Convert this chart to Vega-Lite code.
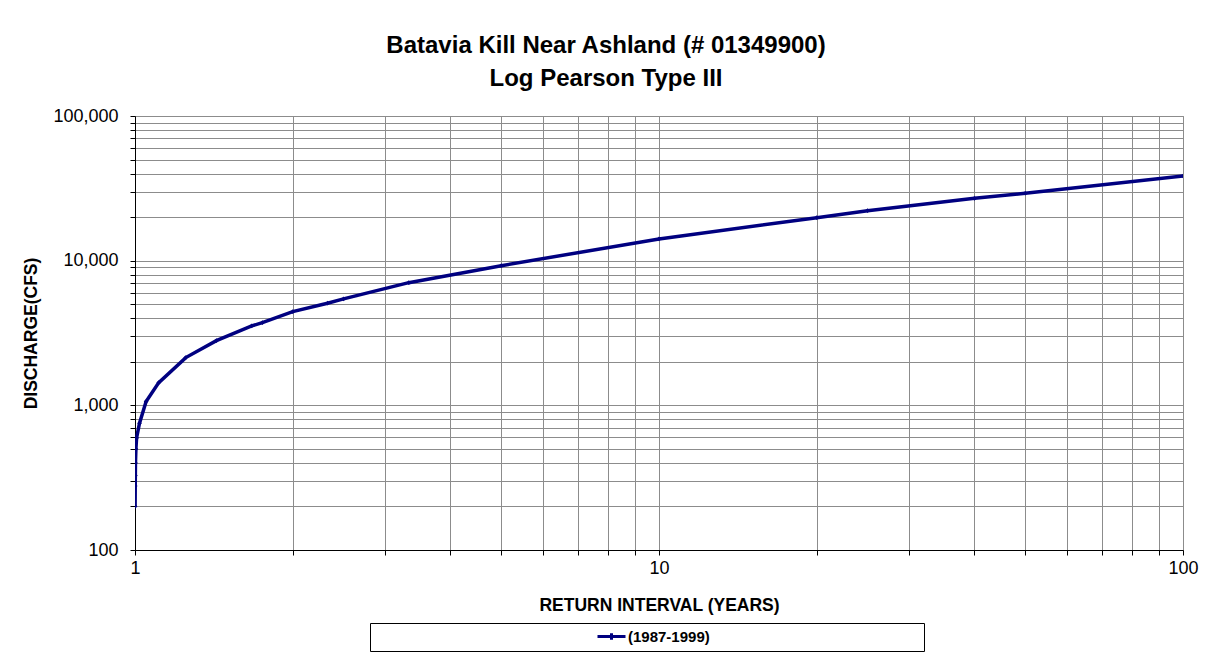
{
  "$schema": "https://vega.github.io/schema/vega-lite/v6.json",
  "width": 1048,
  "height": 434,
  "autosize": {"type": "none"},
  "padding": {"left": 135, "top": 116, "right": 22, "bottom": 111},
  "background": "white",
  "title": {
    "text": ["Batavia Kill Near Ashland (# 01349900)", "Log Pearson Type III"],
    "font": "Liberation Sans",
    "fontSize": 24,
    "fontWeight": "bold",
    "color": "black",
    "anchor": "middle",
    "dx": -53,
    "offset": 16,
    "lineHeight": 33
  },
  "data": {
    "values": [
      {"interval": 1.0005, "discharge": 200, "series": "(1987-1999)"},
      {"interval": 1.001, "discharge": 277, "series": "(1987-1999)"},
      {"interval": 1.0015, "discharge": 327, "series": "(1987-1999)"},
      {"interval": 1.002, "discharge": 400, "series": "(1987-1999)"},
      {"interval": 1.004, "discharge": 500, "series": "(1987-1999)"},
      {"interval": 1.007, "discharge": 595, "series": "(1987-1999)"},
      {"interval": 1.02, "discharge": 752, "series": "(1987-1999)"},
      {"interval": 1.05, "discharge": 1061, "series": "(1987-1999)"},
      {"interval": 1.11, "discharge": 1435, "series": "(1987-1999)"},
      {"interval": 1.25, "discharge": 2138, "series": "(1987-1999)"},
      {"interval": 1.43, "discharge": 2800, "series": "(1987-1999)"},
      {"interval": 1.67, "discharge": 3540, "series": "(1987-1999)"},
      {"interval": 1.75, "discharge": 3727, "series": "(1987-1999)"},
      {"interval": 2, "discharge": 4441, "series": "(1987-1999)"},
      {"interval": 2.33, "discharge": 5080, "series": "(1987-1999)"},
      {"interval": 2.5, "discharge": 5440, "series": "(1987-1999)"},
      {"interval": 3.33, "discharge": 7046, "series": "(1987-1999)"},
      {"interval": 5, "discharge": 9236, "series": "(1987-1999)"},
      {"interval": 10, "discharge": 14125, "series": "(1987-1999)"},
      {"interval": 20, "discharge": 19830, "series": "(1987-1999)"},
      {"interval": 25, "discharge": 22160, "series": "(1987-1999)"},
      {"interval": 40, "discharge": 26990, "series": "(1987-1999)"},
      {"interval": 50, "discharge": 29240, "series": "(1987-1999)"},
      {"interval": 100, "discharge": 38470, "series": "(1987-1999)"}
    ]
  },
  "mark": {
    "type": "line",
    "strokeWidth": 3.5,
    "clip": true,
    "point": {"shape": "diamond", "size": 22, "filled": true, "color": "#000080"}
  },
  "encoding": {
    "x": {
      "field": "interval",
      "type": "quantitative",
      "scale": {"type": "log", "domain": [1, 100], "nice": false},
      "axis": {
        "title": "RETURN INTERVAL (YEARS)",
        "values": [1, 2, 3, 4, 5, 6, 7, 8, 9, 10, 20, 30, 40, 50, 60, 70, 80, 90, 100],
        "format": "d",
        "labelExpr": "indexof([1, 10, 100], datum.value) >= 0 ? datum.label : ''",
        "labelPadding": 4,
        "titlePadding": 19
      }
    },
    "y": {
      "field": "discharge",
      "type": "quantitative",
      "scale": {"type": "log", "domain": [100, 100000], "nice": false},
      "axis": {
        "title": "DISCHARGE(CFS)",
        "values": [100, 200, 300, 400, 500, 600, 700, 800, 900, 1000, 2000, 3000, 4000, 5000, 6000, 7000, 8000, 9000, 10000, 20000, 30000, 40000, 50000, 60000, 70000, 80000, 90000, 100000],
        "format": ",",
        "labelExpr": "indexof([100, 1000, 10000, 100000], datum.value) >= 0 ? datum.label : ''",
        "labelPadding": 12,
        "titlePadding": 12
      }
    },
    "color": {
      "field": "series",
      "type": "nominal",
      "scale": {"range": ["#000080"]},
      "legend": {
        "orient": "none",
        "legendX": 235,
        "legendY": 507,
        "title": "\u200b\u00a0\u00a0\u00a0\u00a0\u00a0\u00a0\u00a0\u00a0\u00a0\u00a0\u00a0\u00a0\u00a0\u00a0\u00a0\u00a0\u00a0\u00a0\u00a0\u00a0\u00a0\u00a0\u00a0\u00a0\u00a0\u00a0\u00a0\u00a0\u00a0\u00a0\u00a0\u00a0\u00a0\u00a0\u00a0\u00a0\u00a0\u00a0\u00a0\u00a0\u00a0\u00a0\u00a0\u00a0\u00a0\u00a0\u00a0\u00a0\u00a0\u00a0\u00a0\u00a0\u00a0\u00a0\u00a0\u00a0\u00a0\u00a0\u00a0\u00a0\u00a0\u00a0\u00a0\u00a0\u00a0\u00a0\u200b",
        "titleOrient": "left",
        "titleFontSize": 12,
        "titleFont": "Liberation Sans",
        "titleFontWeight": "bold",
        "titlePadding": 0,
        "titleLimit": 1000,
        "padding": 5,
        "strokeColor": "black",
        "fillColor": "white",
        "symbolType": "M-2,0L2,0M0,-0.45L0,0.45",
        "symbolSize": 196,
        "symbolOffset": 7,
        "symbolStrokeWidth": 3,
        "symbolStrokeColor": "#000080",
        "labelFont": "Liberation Sans",
        "labelFontSize": 15,
        "labelFontWeight": "bold",
        "labelColor": "black",
        "labelOffset": 8,
        "labelLimit": 1000,
        "labelExpr": "datum.label + '\u00a0\u00a0\u00a0\u00a0\u00a0\u00a0\u00a0\u00a0\u00a0\u00a0\u00a0\u00a0\u00a0\u00a0\u00a0\u00a0\u00a0\u00a0\u00a0\u00a0\u00a0\u00a0\u00a0\u00a0\u00a0\u00a0\u00a0\u00a0\u00a0\u00a0\u00a0\u00a0\u00a0\u00a0\u00a0\u00a0\u00a0\u00a0\u00a0\u00a0\u00a0\u00a0\u00a0\u00a0\u00a0\u00a0\u00a0\u00a0\u00a0\u00a0\u200b'"
      }
    }
  },
  "config": {
    "font": "Liberation Sans",
    "view": {"stroke": "#8c8c8c", "strokeWidth": 1},
    "axis": {
      "labelFont": "Liberation Sans",
      "labelFontSize": 18,
      "labelColor": "black",
      "labelOverlap": false,
      "labelFlush": false,
      "labelBound": false,
      "titleFont": "Liberation Sans",
      "titleFontSize": 17.5,
      "titleFontWeight": "bold",
      "titleColor": "black",
      "domainColor": "black",
      "domainWidth": 1,
      "tickColor": "black",
      "tickSize": 5,
      "tickWidth": 1,
      "grid": true,
      "gridColor": "#8c8c8c",
      "gridWidth": 1,
      "gridOpacity": 1
    }
  }
}
